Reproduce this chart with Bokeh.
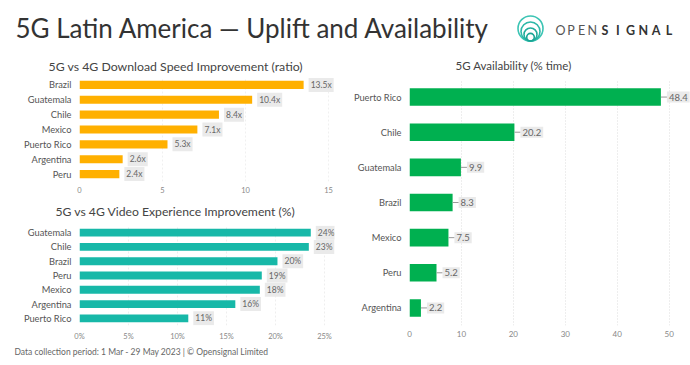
from bokeh.plotting import figure
from bokeh.models import Range1d, FactorRange, FixedTicker, PrintfTickFormatter, ColumnDataSource
from bokeh.layouts import column, row
from bokeh.core.properties import value
from bokeh.embed import file_html
from bokeh.resources import INLINE

# ---------------- data ----------------
TITLE = "5G Latin America \u2014 Uplift and Availability"
FOOTER = "Data collection period: 1 Mar - 29 May 2023 | \u00a9 Opensignal Limited"

dl_title = "5G vs 4G Download Speed Improvement (ratio)"
dl_cats = ["Brazil", "Guatemala", "Chile", "Mexico", "Puerto Rico", "Argentina", "Peru"]
dl_vals = [13.5, 10.4, 8.4, 7.1, 5.3, 2.6, 2.4]
dl_labels = ["13.5x", "10.4x", "8.4x", "7.1x", "5.3x", "2.6x", "2.4x"]
dl_ticks = [0, 5, 10, 15]

vid_title = "5G vs 4G Video Experience Improvement (%)"
vid_cats = ["Guatemala", "Chile", "Brazil", "Peru", "Mexico", "Argentina", "Puerto Rico"]
vid_vals = [23.6, 23.4, 20.2, 18.6, 18.4, 15.9, 11.1]
vid_labels = ["24%", "23%", "20%", "19%", "18%", "16%", "11%"]
vid_ticks = [0, 5, 10, 15, 20, 25]

av_title = "5G Availability (% time)"
av_cats = ["Puerto Rico", "Chile", "Guatemala", "Brazil", "Mexico", "Peru", "Argentina"]
av_vals = [48.4, 20.2, 9.9, 8.3, 7.5, 5.2, 2.2]
av_labels = ["48.4", "20.2", "9.9", "8.3", "7.5", "5.2", "2.2"]
av_ticks = [0, 10, 20, 30, 40, 50]

FONT = "Lato"
ORANGE = "#FFB000"
TEAL = "#17B8A8"
GREEN = "#00B050"


def strip(width, x0, y0, y1):
    """A blank figure whose data units are page pixels (for titles / notes)."""
    s = figure(width=width, height=y1 - y0, output_backend="svg", toolbar_location=None,
               x_range=Range1d(x0, x0 + width), y_range=Range1d(y1, y0),
               x_axis_type=None, y_axis_type=None, frame_align=False,
               min_border_left=0, min_border_right=0, min_border_top=0, min_border_bottom=0)
    s.outline_line_color = None
    s.grid.visible = False
    return s


def chart_title(width, x0, y0, y1, text, lx, cy, size):
    s = strip(width, x0, y0, y1)
    s.text(x=[lx], y=[cy], text=[text], text_font=value(FONT), text_font_size=size,
           text_align="left", text_baseline="middle", text_color="#444444")
    return s


def bar_chart(cats, vals, labels, color, ticks, x_end, fmt,
              width, height, borders, bar_h, grid_color, grid_dash,
              cat_size="9.3px", tick_size="7.5px", lab_size="8.5px", leader=False,
              tick_standoff=5):
    left, right, top, bottom = borders
    p = figure(width=width, height=height, output_backend="svg", toolbar_location=None,
               x_range=Range1d(0, x_end), y_range=FactorRange(factors=cats[::-1]),
               frame_align=False,
               min_border_left=left, min_border_right=right,
               min_border_top=top, min_border_bottom=bottom)
    p.outline_line_color = None
    src = ColumnDataSource(dict(cat=cats, val=vals, lab=labels,
                                lead=[v + 0.022 * x_end for v in vals]))
    p.hbar(y="cat", left=0, right="val", height=bar_h, source=src,
           fill_color=color, line_color=None)
    if leader:
        p.segment(x0="val", x1="lead", y0="cat", y1="cat", source=src,
                  line_color="#999999", line_width=1)
    p.text(x="val", y="cat", text="lab", source=src, x_offset=6 if leader else 5,
           text_baseline="middle", text_align="left",
           text_font=value(FONT), text_font_size=lab_size, text_color="#666666",
           background_fill_color="#EAEAEA", padding=2)
    xa = p.xaxis[0]
    xa.ticker = FixedTicker(ticks=ticks)
    xa.formatter = PrintfTickFormatter(format=fmt)
    xa.axis_line_color = None
    xa.major_tick_line_color = None
    xa.minor_tick_line_color = None
    xa.major_tick_out = 0
    xa.major_label_standoff = tick_standoff
    xa.major_label_text_font = FONT
    xa.major_label_text_font_size = tick_size
    xa.major_label_text_color = "#888888"
    ya = p.yaxis[0]
    ya.axis_line_color = None
    ya.major_tick_line_color = None
    ya.major_tick_out = 0
    ya.major_label_standoff = 8
    ya.major_label_text_font = FONT
    ya.major_label_text_font_size = cat_size
    ya.major_label_text_color = "#555555"
    p.ygrid.grid_line_color = None
    p.xgrid.ticker = FixedTicker(ticks=ticks)
    p.xgrid.grid_line_color = grid_color
    p.xgrid.grid_line_dash = grid_dash
    return p


t1 = chart_title(345, 0, 53, 77, dl_title, 48, 66, "12.3px")
c1 = bar_chart(dl_cats, dl_vals, dl_labels, ORANGE, dl_ticks, 15.6, "%d",
               345, 121, (79, 7, 0, 17), 0.55, "#F0F0F0", "2 2")
t2 = chart_title(345, 0, 198, 225, vid_title, 55, 211, "12.2px")
c2 = bar_chart(vid_cats, vid_vals, vid_labels, TEAL, vid_ticks, 26.02, "%d%%",
               345, 118, (79, 11, 0, 18), 0.55, "#EEEEEE", "2 2", tick_standoff=6)
t3 = chart_title(345, 345, 53, 79, av_title, 455, 64.5, "11.5px")
c3 = bar_chart(av_cats, av_vals, av_labels, GREEN, av_ticks, 54.1, "%d",
               345, 264, (64, 0, 0, 18), 0.5, "#DDDDDD", "1 2",
               cat_size="9.3px", tick_size="8px", lab_size="9.5px", leader=True)

# ---------------- header ----------------
hdr = strip(690, 0, 0, 53)
hdr.text(x=[15], y=[27.5], text=[TITLE], text_font=value(FONT), text_font_size="26px",
         text_baseline="middle", text_align="left", text_color="#333333")
logo_r = [12.5, 9.5, 6.5, 3.8]
logo_c = ["#3CC4B4", "#2DB8A8", "#23AE9E", "#1AA595"]
hdr.circle(x=[530] * 4, y=[40.5 - r for r in logo_r], radius=logo_r,
           fill_color=None, line_color=logo_c, line_width=1.6)
hdr.text(x=[560 + 10.6 * i for i in range(4)], y=[29.5] * 4, text=list("OPEN"),
         text_font=value(FONT), text_font_size="12.5px", text_align="center",
         text_baseline="middle", text_color="#555555")
hdr.text(x=[604.5 + 12.8 * i for i in range(6)], y=[29.5] * 6, text=list("SIGNAL"),
         text_font=value(FONT), text_font_size="12.5px", text_font_style="bold",
         text_align="center", text_baseline="middle", text_color="#333333")

# ---------------- footer ----------------
ftr = strip(690, 0, 343, 365)
ftr.text(x=[14], y=[351], text=[FOOTER], text_font=value(FONT), text_font_size="8.5px",
         text_baseline="middle", text_align="left", text_color="#666666")

layout = column(hdr, row(column(t1, c1, t2, c2), column(t3, c3)), ftr)

open("out.html", "w").write(file_html(layout, INLINE))
